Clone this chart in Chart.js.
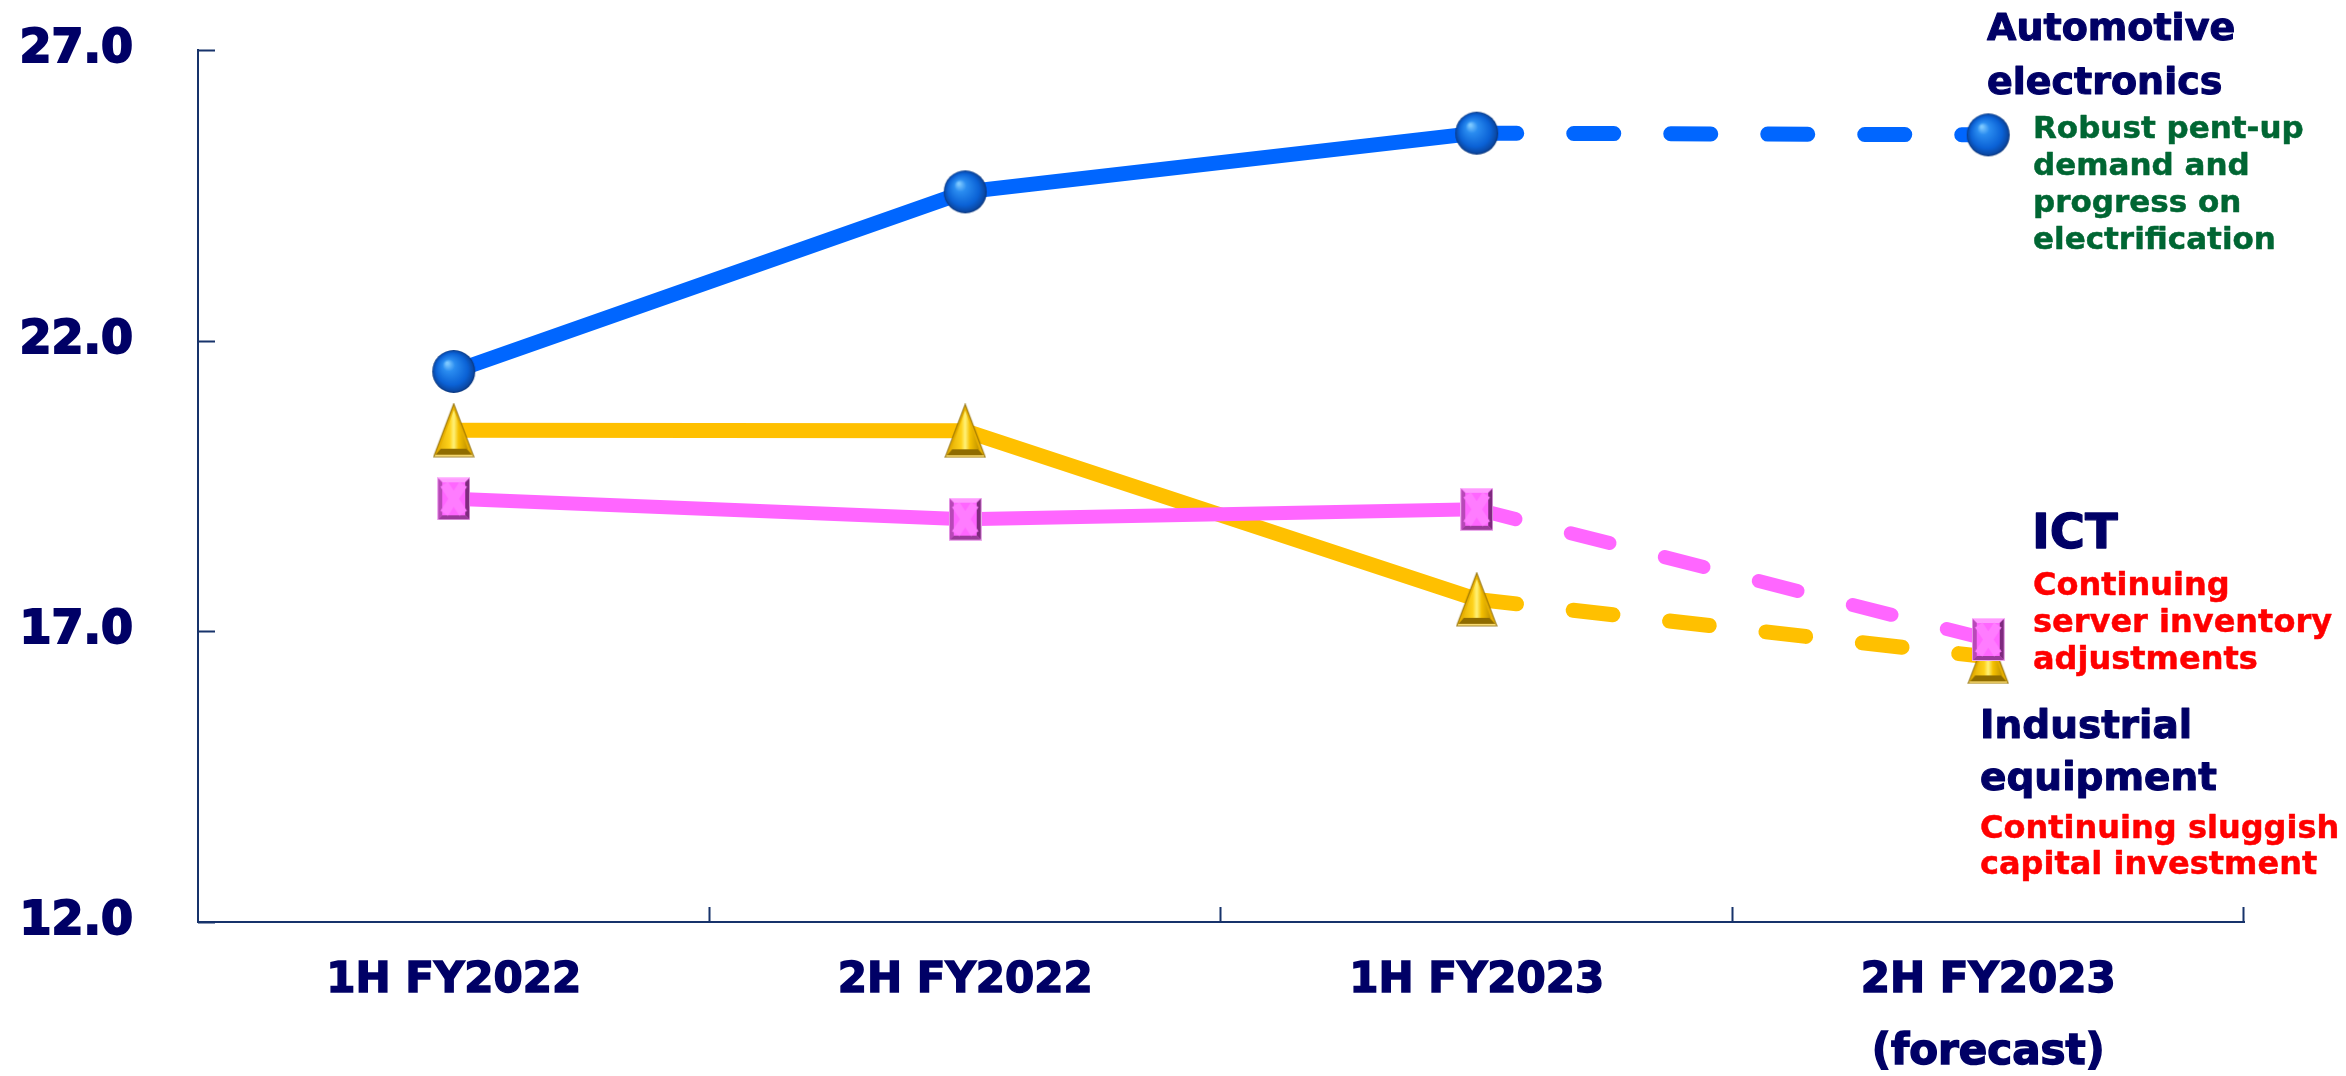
<!DOCTYPE html>
<html>
<head>
<meta charset="utf-8">
<script src="https://cdn.jsdelivr.net/npm/chart.js@4/dist/chart.umd.min.js"></script>
<style>
  html, body { margin: 0; padding: 0; background: #ffffff; }
  #wrap { width: 2346px; height: 1076px; }
</style>
</head>
<body>
<div id="wrap"><canvas id="chart" width="2346" height="1076"></canvas></div>
<script>
// Half-year periods and segment values
const periods = [['1H FY2022'], ['2H FY2022'], ['1H FY2023'], ['2H FY2023', '(forecast)']];
const automotive = [21.47, 24.56, 25.57, 25.54];
const ict = [19.28, 18.93, 19.10, 16.86];
const industrial = [20.46, 20.45, 17.55, 16.56];
const yTicks = [12, 17, 22, 27];
const forecastFrom = 2; // segments starting at this index are forecasts (dashed)

// Side notes for each segment
const autoTitle = ['Automotive', 'electronics'];
const autoNote = ['Robust pent-up', 'demand and', 'progress on', 'electrification'];
const ictTitle = ['ICT'];
const ictNote = ['Continuing', 'server inventory', 'adjustments'];
const indTitle = ['Industrial', 'equipment'];
const indNote = ['Continuing sluggish', 'capital investment'];

const NAVY = '#000066';
const AXIS = '#17336b';
const FONT = "'DejaVu Sans', Verdana, sans-serif";

// ---- 3D-looking marker images ----
function makeSphere(d) {
  const c = document.createElement('canvas');
  c.width = c.height = d + 2;
  const g = c.getContext('2d');
  const r = d / 2, cx = c.width / 2, cy = c.height / 2;
  const grad = g.createRadialGradient(cx - r * 0.3, cy - r * 0.38, r * 0.05, cx, cy, r);
  grad.addColorStop(0, '#7cc8ff');
  grad.addColorStop(0.25, '#2a8cf0');
  grad.addColorStop(0.72, '#0b62d6');
  grad.addColorStop(0.92, '#0a4aa8');
  grad.addColorStop(1, '#0a3478');
  g.beginPath();
  g.arc(cx, cy, r, 0, Math.PI * 2);
  g.fillStyle = grad;
  g.fill();
  return c;
}

function makeTriangle(w, h) {
  const c = document.createElement('canvas');
  c.width = w + 2; c.height = h + 2;
  const g = c.getContext('2d');
  const cx = c.width / 2, top = 1, bot = h + 1, l = 1, r = w + 1;
  // body
  g.beginPath();
  g.moveTo(cx, top); g.lineTo(r, bot); g.lineTo(l, bot); g.closePath();
  g.fillStyle = '#e8b000'; g.fill();
  // left face highlight and right face shade
  const grad = g.createLinearGradient(l, 0, r, 0);
  grad.addColorStop(0, '#d9a200');
  grad.addColorStop(0.4, '#ffd21a');
  grad.addColorStop(0.5, '#fff27a');
  grad.addColorStop(0.62, '#f5c000');
  grad.addColorStop(1, '#a07800');
  g.beginPath();
  g.moveTo(cx, top + 6); g.lineTo(r - 6, bot - 8); g.lineTo(l + 6, bot - 8); g.closePath();
  g.fillStyle = grad; g.fill();
  // bottom bevel
  g.beginPath();
  g.moveTo(l, bot); g.lineTo(r, bot); g.lineTo(r - 7, bot - 8); g.lineTo(l + 7, bot - 8); g.closePath();
  g.fillStyle = '#8f6c00'; g.fill();
  g.fillStyle = '#ffe27a';
  g.fillRect(l, bot - 2, r - l, 2);
  // outline
  g.beginPath();
  g.moveTo(cx, top); g.lineTo(r, bot); g.lineTo(l, bot); g.closePath();
  g.strokeStyle = 'rgba(140,105,0,0.8)'; g.lineWidth = 1.2; g.stroke();
  return c;
}

function makeSquare(w, h) {
  const c = document.createElement('canvas');
  c.width = w; c.height = h;
  const g = c.getContext('2d');
  const b = 5;
  g.fillStyle = '#ff66ff'; g.fillRect(0, 0, w, h);
  // bevels
  g.fillStyle = '#ff9cff';
  g.beginPath(); g.moveTo(0, 0); g.lineTo(w, 0); g.lineTo(w - b, b); g.lineTo(b, b); g.closePath(); g.fill();
  g.fillStyle = '#b848b8';
  g.beginPath(); g.moveTo(0, 0); g.lineTo(b, b); g.lineTo(b, h - b); g.lineTo(0, h); g.closePath(); g.fill();
  g.fillStyle = '#7f2a7f';
  g.beginPath(); g.moveTo(w, 0); g.lineTo(w, h); g.lineTo(w - b, h - b); g.lineTo(w - b, b); g.closePath(); g.fill();
  g.fillStyle = '#9a3a9a';
  g.beginPath(); g.moveTo(0, h); g.lineTo(w, h); g.lineTo(w - b, h - b); g.lineTo(b, h - b); g.closePath(); g.fill();
  // cross pattern
  g.strokeStyle = '#ff7cff'; g.lineWidth = 9;
  g.beginPath();
  g.moveTo(b + 2, b + 2); g.lineTo(w - b - 2, h - b - 2);
  g.moveTo(w - b - 2, b + 2); g.lineTo(b + 2, h - b - 2);
  g.stroke();
  g.strokeStyle = 'rgba(255,200,255,0.8)'; g.lineWidth = 1;
  g.strokeRect(0.5, 0.5, w - 1, h - 1);
  return c;
}

const sphere = makeSphere(43);
const triangle = makeTriangle(40, 53);
const square = makeSquare(33, 43);

const dashPattern = [40, 57];
const forecastDash = ctx => (ctx.p0DataIndex >= forecastFrom ? dashPattern : undefined);

function series(label, data, color, width, marker) {
  return {
    label, data,
    borderColor: color,
    backgroundColor: color,
    borderWidth: width,
    borderCapStyle: 'round',
    borderJoinStyle: 'round',
    pointStyle: marker,
    pointRadius: 21,
    pointHoverRadius: 21,
    tension: 0,
    clip: false,
    segment: { borderDash: forecastDash }
  };
}

// Inward tick marks on both axes
const inwardTicks = {
  id: 'inwardTicks',
  afterDraw(chart) {
    const { ctx, chartArea: a, scales: { x, y } } = chart;
    ctx.save();
    ctx.strokeStyle = AXIS;
    ctx.lineWidth = 2;
    ctx.beginPath();
    yTicks.forEach(v => {
      const py = Math.round(y.getPixelForValue(v)) + 0.5;
      ctx.moveTo(a.left, py); ctx.lineTo(a.left + 17, py);
    });
    const n = periods.length;
    for (let i = 1; i <= n; i++) {
      const px = Math.round(a.left + (a.right - a.left) * i / n) - 0.5;
      ctx.moveTo(px, a.bottom); ctx.lineTo(px, a.bottom - 15);
    }
    ctx.stroke();
    ctx.restore();
  }
};

// Segment names and outlook notes at the right
const sideNotes = {
  id: 'sideNotes',
  afterDraw(chart) {
    const { ctx } = chart;
    ctx.save();
    ctx.textAlign = 'left';
    ctx.textBaseline = 'alphabetic';
    ctx.lineJoin = 'round';
    const block = (lines, x, y0, step, size, color, weight) => {
      ctx.font = `bold ${size}px ${FONT}`;
      ctx.fillStyle = color;
      ctx.strokeStyle = color;
      ctx.lineWidth = weight;
      lines.forEach((t, i) => {
        ctx.fillText(t, x, y0 + i * step);
        ctx.strokeText(t, x, y0 + i * step);
      });
    };
    block(autoTitle, 1987, 40, 54, 38, NAVY, 1.1);
    block(autoNote, 2033, 138, 37, 31, '#006633', 0.5);
    block(ictTitle, 2032, 548, 0, 48, NAVY, 1.3);
    block(ictNote, 2033, 595, 37, 32, '#ff0000', 0.5);
    block(indTitle, 1980, 738, 52, 39, NAVY, 1.1);
    block(indNote, 1980, 838, 36, 32, '#ff0000', 0.5);
    ctx.restore();
  }
};

new Chart(document.getElementById('chart'), {
  type: 'line',
  data: {
    labels: periods,
    datasets: [
      series('Automotive electronics', automotive, '#0066ff', 15, sphere),
      series('ICT', ict, '#ff66ff', 14, square),
      series('Industrial equipment', industrial, '#ffc000', 15, triangle)
    ]
  },
  options: {
    responsive: false,
    devicePixelRatio: 1,
    animation: false,
    layout: { padding: { top: 50, right: 102, left: 0, bottom: 0 } },
    plugins: { legend: { display: false }, tooltip: { enabled: false } },
    scales: {
      x: {
        offset: true,
        grid: { display: false, drawTicks: false },
        border: { display: true, color: AXIS, width: 2 },
        ticks: {
          color: NAVY,
          padding: 23,
          maxRotation: 0,
          autoSkip: false,
          textStrokeColor: NAVY,
          textStrokeWidth: 1.5,
          font: { family: FONT, size: 42, weight: 'bold', lineHeight: 1.72 }
        },
        afterFit(s) { s.height = 154; s.paddingLeft = 0; s.paddingRight = 0; }
      },
      y: {
        min: 12,
        max: 27,
        grid: { display: false, drawTicks: false },
        border: { display: true, color: AXIS, width: 2 },
        afterBuildTicks(s) { s.ticks = yTicks.map(v => ({ value: v })); },
        ticks: {
          color: NAVY,
          padding: 65,
          textStrokeColor: NAVY,
          textStrokeWidth: 2,
          font: { family: FONT, size: 46, weight: 'bold' },
          callback: v => Number(v).toFixed(1)
        },
        afterFit(s) { s.width = 198; s.paddingTop = 0; s.paddingBottom = 0; }
      }
    }
  },
  plugins: [inwardTicks, sideNotes]
});
</script>
</body>
</html>
